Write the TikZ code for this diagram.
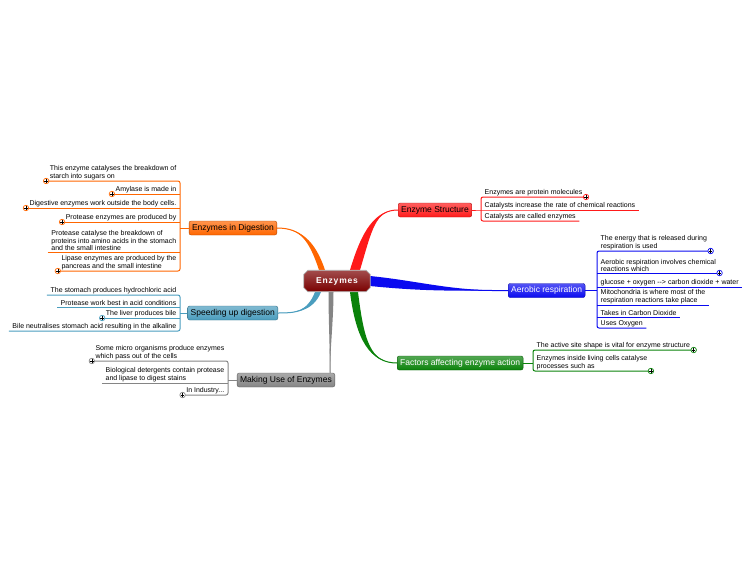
\documentclass[tikz,border=0pt]{standalone}
\usepackage{fontspec}
\setmainfont{Liberation Sans}
\newfontfamily\hubfont[LetterSpace=10]{Liberation Sans}
\usetikzlibrary{calc}
\usetikzlibrary{backgrounds}
\definecolor{hubred}{HTML}{7A0000}
\definecolor{esred}{HTML}{FF1A1A}
\definecolor{digor}{HTML}{FF6600}
\definecolor{arblue}{HTML}{0A0AF0}
\definecolor{fagreen}{HTML}{0A820A}
\definecolor{spteal}{HTML}{4A9DBE}
\definecolor{mugray}{HTML}{858585}

\tikzset{
  topic/.style={draw=#1!70!black, rounded corners=2pt, top color=#1!70!white,
    bottom color=#1, minimum height=14pt, inner xsep=3pt, inner ysep=0pt,
    font=\fontsize{8.5}{10}\selectfont},
  leaf/.style={inner xsep=3.5pt, inner ysep=1pt, align=left,
    font=\fontsize{7}{7.6}\selectfont},
  knob/.style={circle, draw=#1, fill=white, line width=0.7pt, minimum size=5.5pt,
    inner sep=0pt, path picture={
      \draw[black, line width=0.6pt]
        ($(path picture bounding box.center)+(-1.7,0)$) -- ++(3.4,0)
        ($(path picture bounding box.center)+(0,-1.7)$) -- ++(0,3.4);}},
  twig/.style={draw=#1, line width=1pt, rounded corners=2pt}
}

% colour, start, control 1, control 2, end, half width
\newcommand{\limb}[6]{%
  \fill[#1] ($(#2)-(#6)$) .. controls ($(#3)-(#6)$) and (#4) .. (#5)
    .. controls (#4) and ($(#3)+(#6)$) .. ($(#2)+(#6)$) -- cycle;
  \draw[#1, line width=1pt] (#2) .. controls (#3) and (#4) .. (#5);}

\begin{document}
\begin{tikzpicture}[x=1pt, y=-1pt]
  \useasboundingbox (0,0) rectangle (750,563);

  % central topic
  \node[minimum width=66pt, minimum height=21pt, text=white,
    font=\hubfont\fontsize{8.5}{10}\selectfont\bfseries] (hub) at (337,281) {Enzymes};

  % main topics
  \node[topic=esred, anchor=west] (es) at (398,210) {Enzyme Structure};
  \node[topic=arblue, text=white, anchor=west] (ar) at (508,290.5) {Aerobic respiration};
  \node[topic=fagreen, text=white, anchor=west] (fa) at (397,363) {Factors affecting enzyme action};
  \node[topic=digor, anchor=east] (dg) at (277,228) {Enzymes in Digestion};
  \node[topic=spteal, anchor=east] (sp) at (278,313) {Speeding up digestion};
  \node[topic=mugray, anchor=east] (mu) at (335,380) {Making Use of Enzymes};

  % branches
  \begin{scope}[on background layer]
    \coordinate (r0) at ($(hub)+(18,-11)$);
    \coordinate (o0) at ($(hub)+(-15,-11)$);
    \coordinate (t0) at ($(hub)+(-19,11)$);
    \coordinate (g0) at ($(hub)+(-6,11)$);
    \coordinate (b0) at ($(hub)+(33,0)$);
    \coordinate (f0) at ($(hub)+(17,11)$);
    \coordinate (g1) at ($(mu.north east)+(-5,0)$);
    \limb{esred}{r0}{367,230}{375,210}{es.west}{5,0}
    \limb{digor}{o0}{312,240}{300,228}{dg.east}{3,0}
    \limb{spteal}{t0}{310,312}{295,313}{sp.east}{3,0}
    \limb{mugray}{g0}{331,320}{330,350}{g1}{2.5,0}
    \limb{arblue}{b0}{420,286}{450,291}{ar.west}{0,5}
    \limb{fagreen}{f0}{360,340}{370,363}{fa.west}{4,0}
    % chamfered outline of the central topic
    \draw[gray!60, line width=0.8pt, top color=hubred!70!white, bottom color=hubred]
      ([xshift=4pt]hub.north west) -- ([xshift=-4pt]hub.north east)
      -- ([yshift=-4pt]hub.north east) -- ([yshift=4pt]hub.south east)
      -- ([xshift=-4pt]hub.south east) -- ([xshift=4pt]hub.south west)
      -- ([yshift=4pt]hub.south west) -- ([yshift=-4pt]hub.north west) -- cycle;
  \end{scope}

  % Enzyme Structure
  \node[leaf, anchor=south west] (es1) at (481,197) {Enzymes are protein molecules};
  \node[leaf, anchor=south west] (es2) at (481,210) {Catalysts increase the rate of chemical reactions};
  \node[leaf, anchor=south west] (es3) at (481,221) {Catalysts are called enzymes};
  \draw[twig=esred] (es1.south east) -- (es1.south west) -- (es3.south west) -- (es3.south east);
  \draw[twig=esred] (es.east) -- (es2.south west) -- (es2.south east);

  % Aerobic respiration
  \node[leaf, anchor=south west] (ar1) at (597,251) {The energy that is released during\\respiration is used};
  \node[leaf, anchor=south west] (ar2) at (597,273) {Aerobic respiration involves chemical\\reactions which};
  \node[leaf, anchor=south west] (ar3) at (597,287) {glucose + oxygen {-}{-}> carbon dioxide + water};
  \node[leaf, anchor=south west] (ar4) at (597,305) {Mitochondria is where most of the\\respiration reactions take place};
  \node[leaf, anchor=south west] (ar5) at (597,317) {Takes in Carbon Dioxide};
  \node[leaf, anchor=south west] (ar6) at (597,328) {Uses Oxygen};
  \draw[twig=arblue] (ar1.south east) -- (ar1.south west) -- (ar6.south west) -- (ar6.south east);
  \foreach \i in {2,...,5}
    \draw[twig=arblue] (ar\i.south west) -- (ar\i.south east);
  \draw[twig=arblue] (ar.east) -- (ar.east -| ar1.south west);

  % Factors affecting enzyme action
  \node[leaf, anchor=south west] (fa1) at (533,350) {The active site shape is vital for enzyme structure};
  \node[leaf, anchor=south west] (fa2) at (533,371) {Enzymes inside living cells catalyse\\processes such as};
  \draw[twig=fagreen] (fa1.south east) -- (fa1.south west) -- (fa2.south west) -- (fa2.south east);
  \draw[twig=fagreen] (fa.east) -- (fa.east -| fa1.south west);

  % Enzymes in Digestion
  \node[leaf, anchor=south east] (dg1) at (180,181) {This enzyme catalyses the breakdown of\\starch into sugars on};
  \node[leaf, anchor=south east] (dg2) at (180,194) {Amylase is made in};
  \node[leaf, anchor=south east] (dg3) at (180,208) {Digestive enzymes work outside the body cells.};
  \node[leaf, anchor=south east] (dg4) at (180,222) {Protease enzymes are produced by};
  \node[leaf, anchor=south east] (dg5) at (180,252) {Protease catalyse the breakdown of\\proteins into amino acids in the stomach\\and the small intestine};
  \node[leaf, anchor=south east] (dg6) at (180,271) {Lipase enzymes are produced by the\\pancreas and the small intestine};
  \draw[twig=digor] (dg1.south west) -- (dg1.south east) -- (dg6.south east) -- (dg6.south west);
  \foreach \i in {2,...,5}
    \draw[twig=digor] (dg\i.south west) -- (dg\i.south east);
  \draw[twig=digor] (dg.west) -- (dg.west -| dg1.south east);

  % Speeding up digestion
  \node[leaf, anchor=south east] (sp1) at (180,295) {The stomach produces hydrochloric acid};
  \node[leaf, anchor=south east] (sp2) at (180,307) {Protease work best in acid conditions};
  \node[leaf, anchor=south east] (sp3) at (180,318) {The liver produces bile};
  \node[leaf, anchor=south east] (sp4) at (180,331) {Bile neutralises stomach acid resulting in the alkaline};
  \draw[twig=spteal] (sp1.south west) -- (sp1.south east) -- (sp4.south east) -- (sp4.south west);
  \foreach \i in {2,3}
    \draw[twig=spteal] (sp\i.south west) -- (sp\i.south east);
  \draw[twig=spteal] (sp.west) -- (sp.west -| sp1.south east);

  % Making Use of Enzymes
  \node[leaf, anchor=south east] (mu1) at (228,361) {Some micro organisms produce enzymes\\which pass out of the cells};
  \node[leaf, anchor=south east] (mu2) at (228,383) {Biological detergents contain protease\\and lipase to digest stains};
  \node[leaf, anchor=south east] (mu3) at (228,395) {In Industry...};
  \draw[twig=mugray] (mu1.south west) -- (mu1.south east) -- (mu3.south east) -- (mu3.south west);
  \draw[twig=mugray] (mu2.south west) -- (mu2.south east);
  \draw[twig=mugray] (mu.west) -- (mu.west -| mu1.south east);

  % collapsed markers
  \foreach \a/\c [count=\i] in {es1.south east/esred, ar1.south east/arblue,
      ar2.south east/arblue, fa1.south east/fagreen, fa2.south east/fagreen,
      dg1.south west/digor, dg2.south west/digor, dg3.south west/digor,
      dg4.south west/digor, dg6.south west/digor, sp3.south west/spteal,
      mu1.south west/mugray, mu3.south west/mugray}
    \node[knob=\c] (k\i) at (\a) {};
\end{tikzpicture}
\end{document}
